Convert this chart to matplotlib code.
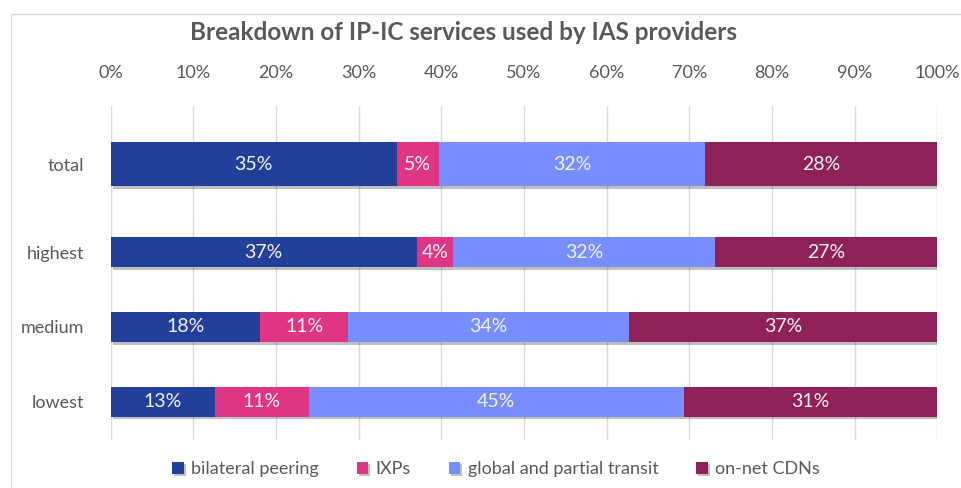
import matplotlib
matplotlib.use("Agg")
import matplotlib.pyplot as plt
import matplotlib.patheffects as pe
from matplotlib.patches import Rectangle
import numpy as np

categories = ["total", "highest", "medium", "lowest"]
series_names = ["bilateral peering", "IXPs", "global and partial transit", "on-net CDNs"]
bilateral = [34.6, 37.0, 18.1, 12.6]
ixps = [5.1, 4.4, 10.6, 11.4]
transit = [32.2, 31.7, 34.0, 45.3]
cdns = [28.1, 26.9, 37.3, 30.7]
xticks = [0, 10, 20, 30, 40, 50, 60, 70, 80, 90, 100]
title = "Breakdown of IP-IC services used by IAS providers"

colors = ["#22409A", "#DE3584", "#788DFE", "#8E2157"]
ypos = [3.18, 2, 1, 0]
heights = [0.593, 0.40, 0.40, 0.40]

plt.rcParams['font.family'] = ['Lato', 'DejaVu Sans']
fig = plt.figure(figsize=(9.61, 4.88), dpi=100)
W, H = 961, 488
ax = fig.add_axes([110.7 / W, 1 - 440 / H, (937.3 - 110.7) / W, (440 - 106) / H])

# outer chart border
fig.patches.append(Rectangle((11 / W, -0.1), 1.2, 1 - 14 / H + 0.1, transform=fig.transFigure,
                             fill=False, edgecolor="#D9D9D9", linewidth=1.0))

left = np.zeros(len(categories))
shadow = [pe.SimplePatchShadow(offset=(1.5, -2), shadow_rgbFace="black", alpha=0.25), pe.Normal()]
for name, vals, col in zip(series_names, [bilateral, ixps, transit, cdns], colors):
    bars = ax.barh(ypos, vals, left=left, height=heights, color=col, label=name, zorder=3)
    for b in bars:
        b.set_path_effects(shadow)
    for y, v, l in zip(ypos, vals, left):
        ax.text(l + v / 2, y, f"{v:.0f}%", ha="center", va="center", color="#F2F2F2",
                fontsize=14, zorder=4)
    left += np.array(vals)

ax.set_xlim(0, 100)
ax.set_ylim(-0.513, 3.958)
ax.set_xticks(xticks)
ax.set_xticklabels([f"{t}%" for t in xticks])
ax.xaxis.tick_top()
ax.tick_params(axis="x", length=0, pad=18, labelsize=13, labelcolor="#595959")
ax.set_yticks(ypos)
ax.set_yticklabels(categories)
ax.tick_params(axis="y", length=0, pad=19, labelsize=13, labelcolor="#595959")
ax.grid(axis="x", color="#D9D9D9", linewidth=1.0, zorder=0)
ax.set_axisbelow(True)
for s in ax.spines.values():
    s.set_visible(False)

fig.text(464 / W, 1 - 33 / H, title, ha="center", va="center", fontsize=17.5,
         fontweight="bold", color="#595959")

fig.legend(loc="center", bbox_to_anchor=(496 / W, 1 - 469 / H), ncol=4, frameon=False,
           fontsize=13, labelcolor="#595959", handlelength=0.65, handleheight=0.65,
           handletextpad=0.4, columnspacing=2.1)

fig.savefig("out.png", dpi=100)
